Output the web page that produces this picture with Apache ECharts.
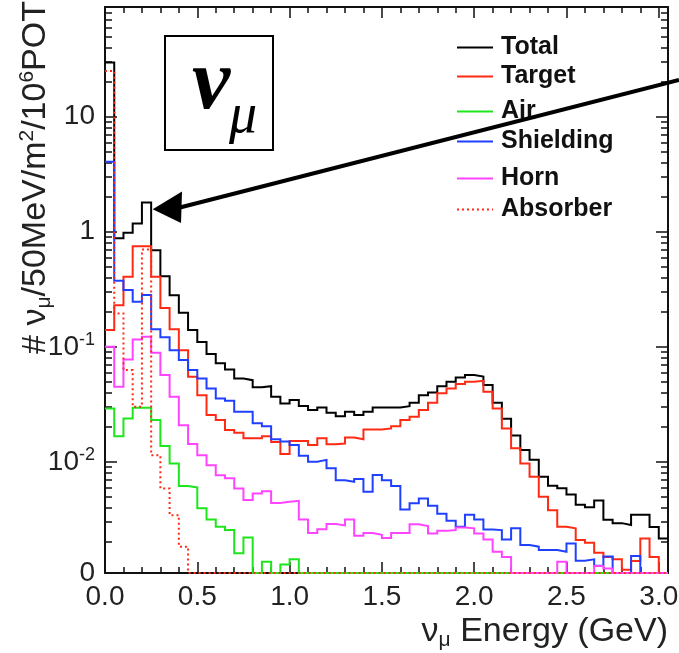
<!DOCTYPE html>
<html><head><meta charset="utf-8">
<script src="https://cdn.jsdelivr.net/npm/echarts@6/dist/echarts.min.js"></script>
<style>html,body{margin:0;padding:0;background:#fff}#c{width:679px;height:653px}</style>
</head><body><div id="c"></div>
<script>
// ---- data (50 MeV bins starting at 0 GeV; 0 = empty bin) ----
const binWidth = 0.05;
const xMax = 3.05;
const yMin = 0.00108, yMax = 90;
const xTickLabels = ['0.0','0.5','1.0','1.5','2.0','2.5','3.0'];
const seriesNames = ['Total','Target','Air','Shielding','Horn','Absorber'];

const total = [29.7,0.88,0.98,1.18,1.80,0.69,0.41,0.28,0.198,0.14,
 0.110,0.0865,0.0718,0.0635,0.0531,0.0513,0.0444,0.0455,0.0367,0.0322,
 0.0344,0.0305,0.0282,0.0297,0.0267,0.0249,0.0272,0.0255,0.0272,0.0297,
 0.0297,0.0297,0.0305,0.0326,0.038,0.0401,0.0455,0.0497,0.0542,0.0568,
 0.0552,0.0465,0.0326,0.0237,0.0169,0.0127,0.0104,0.0074,0.0062,0.0059,
 0.0052,0.00424,0.00403,0.0046,0.00313,0.00293,0.00282,0.00347,0.00347,0.00271,
 0.00216];
const target = [0.14,0.23,0.406,0.75,0.75,0.406,0.217,0.142,0.0935,0.0548,
 0.038,0.0255,0.0231,0.0189,0.0179,0.0160,0.0160,0.0167,0.0149,0.0117,
 0.0152,0.0152,0.0140,0.0160,0.0142,0.0144,0.0163,0.0157,0.0191,0.0191,
 0.0195,0.0204,0.0231,0.0246,0.0282,0.0326,0.0394,0.0435,0.0474,0.0497,
 0.0506,0.0407,0.0291,0.0195,0.0131,0.00968,0.0074,0.00497,0.0038,0.00272,
 0.00264,0.00209,0.00198,0.00162,0.00149,0.00142,0.00115,0.00137,0.00216,0.00149,
 0];
const air = [0.0291,0.0167,0.0238,0.0295,0.0295,0.0231,0.0137,0.00968,0.00615,0.00599,
 0.00394,0.00315,0.00272,0.00255,0.0016,0.0022,0,0.00135,0,0.00128,
 0.00142,0,0,0,0,0,0,0,0,0,
 0,0,0,0,0,0,0,0,0,0,
 0,0,0,0,0,0,0,0,0,0,
 0,0,0,0,0,0,0,0,0,0,
 0];
const shielding = [4.06,0.375,0.311,0.246,0.282,0.142,0.121,0.0935,0.0766,0.0627,
 0.0531,0.0435,0.0356,0.034,0.0272,0.0272,0.0216,0.0204,0.0157,0.0150,
 0.0140,0.0113,0.0100,0.0104,0.0088,0.0069,0.0067,0.0071,0.00548,0.0077,
 0.0069,0.00615,0.00385,0.00437,0.0048,0.00415,0.00353,0.00308,0.00273,0.00347,
 0.00315,0.00258,0.00255,0.00211,0.00264,0.00189,0.00183,0.00171,0.00171,0.00165,
 0.00195,0.00138,0.00142,0.00125,0.0015,0,0,0.00152,0,0,
 0];
const horn = [0.1,0.0449,0.0777,0.116,0.122,0.0887,0.0568,0.0367,0.0208,0.0143,
 0.0114,0.00936,0.00766,0.0072,0.00587,0.00465,0.00531,0.00556,0.00439,0.00449,
 0.00458,0.00315,0.0024,0.00259,0.00288,0.0028,0.00315,0.00228,0.0024,0.00232,
 0.00218,0.0024,0.0024,0.00287,0.00276,0.00238,0.00251,0.00255,0.00268,0.00264,
 0.00238,0.00211,0.00165,0.00149,0,0,0,0,0,0.00135,
 0,0,0,0.00124,0.00118,0,0,0,0,0,
 0];
const absorber = [25,0.195,0.0627,0.0301,0.70,0.0114,0.00587,0.00344,0.00183,0,
 0,0,0,0,0,0,0,0,0,0,
 0,0,0,0,0,0,0,0,0,0,
 0,0,0,0,0,0,0,0,0,0,
 0,0,0,0,0,0,0,0,0,0,
 0,0,0,0,0,0,0,0,0,0,
 0];

// ---- styling ----
const FONT = 'Liberation Sans, Arial, Helvetica, sans-serif';
const colors = ['#000000','#ff2a14','#1de61d','#2040ff','#ff44ff','#ff2a14'];
const lineTypes = ['solid','solid','solid','solid','solid',[2,3]];
const legendCenters = [43, 72, 107, 137, 174, 205];
const seriesData = [total, target, air, shielding, horn, absorber];

function toSteps(arr) {
  const pts = arr.map((v, i) => [+(i * binWidth).toFixed(2), v > 0 ? v : yMin]);
  const last = arr[arr.length - 1];
  pts.push([xMax, last > 0 ? last : yMin]);
  return pts;
}

const majorX = xTickLabels.map(Number);
const minorX = [];
for (let k = 1; k <= 30; k++) if (k % 5 !== 0) minorX.push(k / 10);
// tick positions for the log axis, expressed as exponents (log10)
const lgMin = Math.log10(yMin), lgMax = Math.log10(yMax);
const majorYExp = [-2, -1, 0, 1];
const minorYExp = [];
for (let d = -3; d <= 1; d++) for (let k = 2; k <= 9; k++) {
  const e = d + Math.log10(k);
  if (e > lgMin && e < lgMax) minorYExp.push(e);
}

const axisColor = '#111';
function xAx(pos, major, showLine, showLabel) {
  return {
    type: 'value', min: 0, max: xMax, position: pos, gridIndex: 0,
    axisLine: { show: showLine, onZero: false, lineStyle: { color: axisColor, width: 2 } },
    axisTick: { show: true, inside: true, length: major ? 11 : 6,
      customValues: major ? majorX : minorX, lineStyle: { color: axisColor, width: 1.5 } },
    axisLabel: showLabel ? { show: true, customValues: majorX, formatter: v => v.toFixed(1),
      fontSize: 28, color: '#222', fontFamily: FONT, margin: 10 } : { show: false },
    splitLine: { show: false }
  };
}
// tick-only axes on the exponent scale (same span as the log data axis)
function yTickAx(pos, major, showLine) {
  return {
    type: 'value', min: lgMin, max: lgMax, position: pos, gridIndex: 0,
    axisLine: { show: showLine, onZero: false, lineStyle: { color: axisColor, width: 2 } },
    axisTick: { show: true, inside: true, length: major ? 12 : 7,
      customValues: major ? majorYExp : minorYExp, lineStyle: { color: axisColor, width: 1.5 } },
    axisLabel: { show: false }, splitLine: { show: false }
  };
}
const yMain = {
  type: 'log', logBase: 10, min: yMin, max: yMax, position: 'left', gridIndex: 0,
  axisLine: { show: true, onZero: false, lineStyle: { color: axisColor, width: 2 } },
  axisTick: { show: false },
  splitLine: { show: false },
  axisLabel: {
    show: true, showMinLabel: true, showMaxLabel: false,
    fontSize: 28, color: '#222', fontFamily: FONT, margin: 10,
    formatter: v => {
      if (v <= yMin * 1.01) return '0';
      if (v >= yMax * 0.99) return '';
      const e = Math.round(Math.log10(v));
      if (e === 0) return '1';
      if (e === 1) return '10';
      return '10{sup|' + e + '}';
    },
    rich: { sup: { fontSize: 18, fontFamily: FONT, color: '#222', padding: [0, 0, 14, 0] } }
  }
};

const series = seriesNames.map((name, i) => ({
  type: 'line', name, data: toSteps(seriesData[i]), step: 'end',
  xAxisIndex: 0, yAxisIndex: 0, symbol: 'none', showSymbol: false,
  lineStyle: { color: colors[i], width: 2, type: lineTypes[i], join: 'miter' },
  itemStyle: { color: colors[i] }, clip: true, z: 2 + i, animation: false
}));

const legends = seriesNames.map((name, i) => ({
  data: [name], left: 451, top: legendCenters[i] - 13, orient: 'horizontal',
  itemWidth: 36, itemHeight: 14, selectedMode: false,
  itemStyle: { opacity: 0 },
  textStyle: { fontSize: 25, fontWeight: 'bold', color: '#111', fontFamily: FONT, padding: [0, 0, 0, 3] }
}));

const richTitle = {
  sub: { fontSize: 21, fontFamily: FONT, fill: '#222', padding: [17, 0, 0, 0] },
  sup: { fontSize: 21, fontFamily: FONT, fill: '#222', padding: [0, 0, 17, 0] }
};

const chart = echarts.init(document.getElementById('c'), null, { renderer: 'canvas' });
chart.setOption({
  animation: false,
  backgroundColor: '#fff',
  grid: { left: 105, right: 11, top: 7, bottom: 80, containLabel: false, outerBoundsMode: 'none' },
  xAxis: [xAx('bottom', true, true, true), xAx('bottom', false, false, false),
          xAx('top', true, true, false), xAx('top', false, false, false)],
  yAxis: [yMain, yTickAx('left', true, false), yTickAx('left', false, false),
          yTickAx('right', true, true), yTickAx('right', false, false)],
  legend: legends,
  series,
  graphic: [
    { type: 'text', x: 36, y: 1, rotation: Math.PI / 2, z: 10,
      style: { text: '# ν{sub|μ}/50MeV/m{sup|2}/10{sup|6}POT', fontSize: 34, fontFamily: FONT,
        fill: '#222', align: 'right', verticalAlign: 'middle', rich: richTitle } },
    { type: 'text', x: 668, y: 632, z: 10,
      style: { text: 'ν{sub|μ} Energy (GeV)', fontSize: 34, fontFamily: FONT,
        fill: '#222', align: 'right', verticalAlign: 'middle', rich: richTitle } },
    { type: 'rect', shape: { x: 165, y: 36, width: 108, height: 114 }, z: 10,
      style: { fill: 'none', stroke: '#000', lineWidth: 2 } },
    { type: 'text', x: 211, y: 86, z: 10,
      style: { text: 'ν', fontSize: 86, fontStyle: 'italic', fontWeight: 'bold', fontFamily: 'Liberation Serif, serif',
        fill: '#000', align: 'center', verticalAlign: 'middle' } },
    { type: 'text', x: 243, y: 117, z: 10,
      style: { text: 'μ', fontSize: 56, fontStyle: 'italic', fontFamily: 'Liberation Serif, serif',
        fill: '#000', align: 'center', verticalAlign: 'middle' } },
    { type: 'line', shape: { x1: 679, y1: 80, x2: 176, y2: 208.5 }, z: 20,
      style: { stroke: '#000', lineWidth: 4 } },
    { type: 'polygon', shape: { points: [[152.7, 209.3], [182, 191.5], [181, 223]] }, z: 20,
      style: { fill: '#000' } }
  ]
});
</script></body></html>
